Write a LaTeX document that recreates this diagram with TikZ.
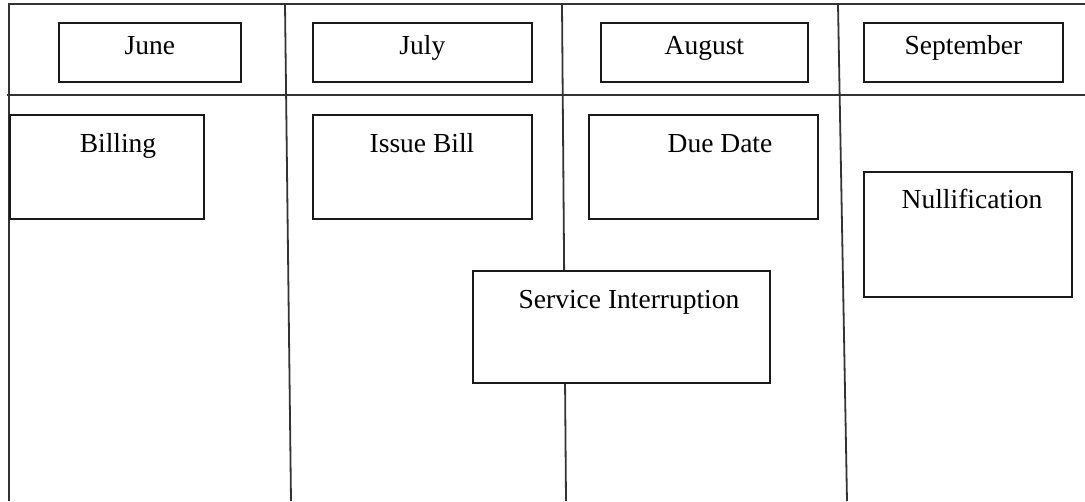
\documentclass[tikz,border=0pt]{standalone}
\usepackage{fontspec}
\setmainfont{Liberation Serif}
\usepackage{xcolor}
\definecolor{boxBlack}{HTML}{1A1A1A}
\definecolor{lineGray}{HTML}{333333}
\usepackage{tikz}
\usetikzlibrary{positioning}

\begin{document}
\begin{tikzpicture}[
    x=1pt, y=-1pt,
    divider/.style={
        draw=lineGray,
        line width=1.8pt
    },
    monthbox/.style={
        draw=boxBlack,
        line width=1.8pt,
        fill=white,
        rectangle,
        anchor=north west,
        minimum height=59pt,
        text height=0.72em,
        text depth=0.22em,
        font=\fontsize{27.5}{33}\selectfont
    },
    taskbox/.style={
        draw=boxBlack,
        line width=1.8pt,
        fill=white,
        rectangle,
        anchor=north west
    },
    tasklabel/.style={
        anchor=base,
        font=\fontsize{27.5}{33}\selectfont
    }
]
\useasboundingbox (0,0) rectangle (1085,501);

% Frame and columns
\draw[divider] (1085,4) -- (9,4) -- (9,501);
\draw[divider] (7,95) -- (1085,95);
\foreach \xt/\xb in {285/291, 562/566, 838/847}
    \draw[divider] (\xt,4) -- (\xb,501);

% Months
\node[monthbox, minimum width=182pt] (june) at (58,22) {June};
\node[monthbox, minimum width=219pt] (july) at (312,22) {July};
\node[monthbox, minimum width=207pt] (august) at (600,22) {August};
\node[monthbox, minimum width=199pt] (september) at (863,22) {September};

% Steps
\node[taskbox, minimum width=194pt, minimum height=104pt] (billing) at (9,114) {};
\node[tasklabel] (billingtxt) at (118,152) {Billing};

\node[taskbox, minimum width=219pt, minimum height=104pt] (issuebill) at (312,114) {};
\node[tasklabel] (issuebilltxt) at (422,152) {Issue Bill};

\node[taskbox, minimum width=229pt, minimum height=104pt] (duedate) at (588,114) {};
\node[tasklabel] (duedatetxt) at (720,152) {Due Date};

\node[taskbox, minimum width=208pt, minimum height=125pt] (nullify) at (863,171) {};
\node[tasklabel] (nullifytxt) at (972,208) {Nullification};

\node[taskbox, minimum width=297pt, minimum height=112pt] (interrupt) at (472,270) {};
\node[tasklabel] (interrupttxt) at (629,308) {Service Interruption};

\end{tikzpicture}
\end{document}
